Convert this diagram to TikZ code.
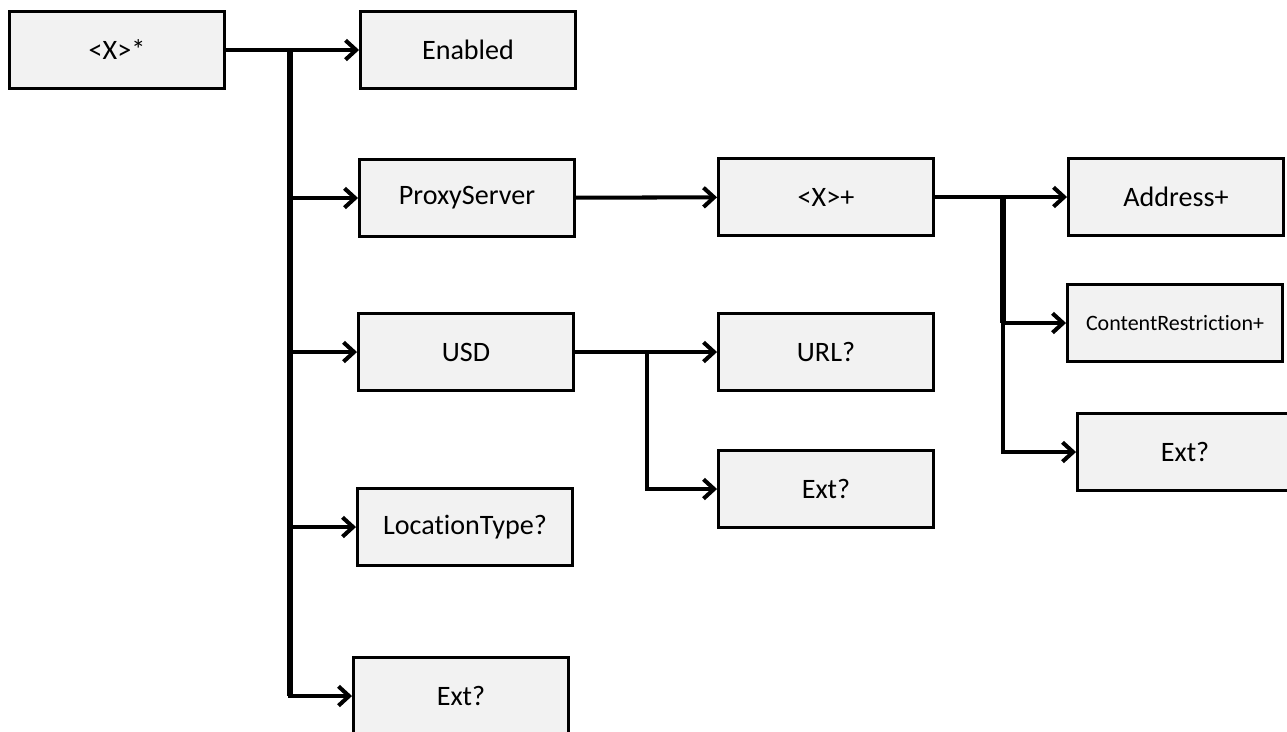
\documentclass[tikz,border=0pt]{standalone}
\usepackage{fontspec}
\setmainfont{Carlito}[Ligatures=NoCommon]
\usetikzlibrary{arrows.meta}
\definecolor{boxfill}{RGB}{242,242,242}
\begin{document}
\begin{tikzpicture}[x=0.02cm,y=-0.02cm,
    elem/.style={draw,line width=1.7pt,fill=boxfill,minimum width=4.3cm,minimum height=1.55cm,inner sep=0pt,font=\fontsize{16}{19}\selectfont},
    link/.style={line width=2.3pt,-{Straight Barb[length=6pt,width=11pt,line width=2.3pt]}}]
        \useasboundingbox (0,0) rectangle (1287,731);
        \node[elem] (root) at (117,50) {<X>*};
        \node[elem] (enabled) at (468,50) {Enabled};
        \node[elem] (proxy) at (467,198) {ProxyServer};
        \node[elem] (usd) at (466,352) {USD};
        \node[elem] (loctype) at (465,527) {LocationType?};
        \node[elem] (extA) at (461,696) {Ext?};
        \node[elem] (xplus) at (826,197) {<X>+};
        \node[elem] (url) at (826,352) {URL?};
        \node[elem] (extB) at (826,489) {Ext?};
        \node[elem] (address) at (1176,197) {Address+};
        \node[elem,font=\fontsize{12.5}{15}\selectfont] (content) at (1175,323) {ContentRestriction+};
        \node[elem] (extC) at (1185,452) {Ext?};
        % trunk and branch points
        \coordinate (t1) at (290,50);
        \coordinate (t2) at (1003,197);
        \coordinate (t3) at (647,352);
        \draw[link] (root) -- (enabled);
        \draw[line width=3.4pt] (t1) -- (t1 |- extA);
        \draw[link] (t1) |- (proxy.west);
        \draw[link] (t1) |- (usd.west);
        \draw[link] (t1) |- (loctype.west);
        \draw[link] (t1) |- (extA.west);
        \draw[link] (proxy) -- (xplus);
        \draw[link] (xplus) -- (address);
        \draw[line width=3.4pt] (t2) -- (t2 |- content);
        \draw[link] (t2) |- (content.west);
        \draw[link] (t2) |- (extC.west);
        \draw[link] (usd) -- (url);
        \draw[link] (t3) |- (extB.west);
    \end{tikzpicture}
\end{document}
